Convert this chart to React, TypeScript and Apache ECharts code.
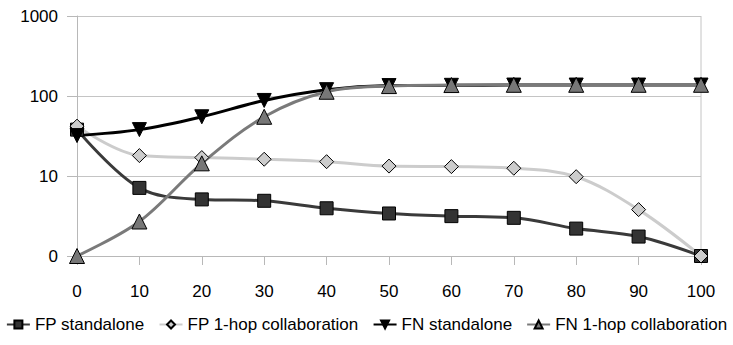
import React, { useEffect, useRef } from "react";
import * as echarts from "echarts";

const xValues = [0, 10, 20, 30, 40, 50, 60, 70, 80, 90, 100];
const fpStandalone = [38, 7.1, 5.1, 4.9, 3.95, 3.4, 3.15, 3.0, 2.2, 1.75, 1];
const fpOneHop = [42, 18, 17, 16.2, 15.1, 13.3, 13.1, 12.5, 9.8, 3.8, 1];
const fnStandalone = [32, 38, 55, 88, 120, 135, 136, 137, 137, 137, 137];
const fnOneHop = [1, 2.7, 14.4, 55, 113, 133, 137, 138, 138, 138, 138];
const seriesNames = ["FP standalone", "FP 1-hop collaboration", "FN standalone", "FN 1-hop collaboration"];

const FONT = "'Liberation Sans', Arial, sans-serif";

export default function App() {
  const ref = useRef<HTMLDivElement>(null);
  useEffect(() => {
    if (!ref.current) return;
    const chart = echarts.init(ref.current, null, { renderer: "svg" });
    const pair = (arr: number[]) => xValues.map((x, i) => [x, arr[i]]);
    const mk = (name: string, data: number[], lineColor: string, fill: string, symbol: string, size: number) => ({
      name,
      type: "line",
      data: pair(data),
      smooth: 0.35,
      clip: false,
      symbol,
      symbolSize: size,
      lineStyle: { color: lineColor, width: 3 },
      itemStyle: { color: fill, borderColor: "#000", borderWidth: 1 },
    });
    chart.setOption({
      animation: false,
      textStyle: { fontFamily: FONT },
      grid: { left: 77, right: 32, top: 16, bottom: 89 },
      legend: {
        bottom: 7,
        left: "center",
        itemWidth: 23,
        itemHeight: 10,
        itemGap: 14,
        textStyle: { fontSize: 17, color: "#000", fontFamily: FONT },
        data: seriesNames,
      },
      xAxis: {
        type: "value",
        min: 0,
        max: 100,
        interval: 10,
        axisLine: { show: true, lineStyle: { color: "#b8b8b8", width: 1 } },
        axisTick: { show: true, length: 9, lineStyle: { color: "#b8b8b8" } },
        axisLabel: { fontSize: 17, color: "#000", margin: 27, fontFamily: FONT },
        splitLine: { show: false },
      },
      yAxis: {
        type: "log",
        logBase: 10,
        min: 1,
        max: 1000,
        axisLine: { show: true, lineStyle: { color: "#b8b8b8", width: 1 } },
        axisTick: { show: true, length: 10, lineStyle: { color: "#b8b8b8" } },
        axisLabel: {
          fontSize: 17,
          color: "#000",
          margin: 19,
          fontFamily: FONT,
          formatter: (v: number) => (Math.abs(v - 1) < 1e-6 ? "0" : String(Math.round(v))),
        },
        splitLine: { show: true, lineStyle: { color: "#c4c4c4", width: 1 } },
      },
      graphic: [
        {
          type: "line",
          shape: { x1: 701, y1: 16, x2: 701, y2: 256 },
          style: { stroke: "#c4c4c4", lineWidth: 1 },
          z: 0,
        },
      ],
      series: [
        mk(seriesNames[0], fpStandalone, "#3a3a3a", "#333333", "rect", 13),
        mk(seriesNames[1], fpOneHop, "#cccccc", "#cccccc", "diamond", 14),
        mk(seriesNames[2], fnStandalone, "#000000", "#000000", "path://M0,0 L10,0 L5,9 Z", 14),
        mk(seriesNames[3], fnOneHop, "#7a7a7a", "#777777", "triangle", 15),
      ],
    });
    return () => chart.dispose();
  }, []);
  return <div ref={ref} style={{ width: 733, height: 345, position: "absolute", left: 0, top: 0 }} />;
}
